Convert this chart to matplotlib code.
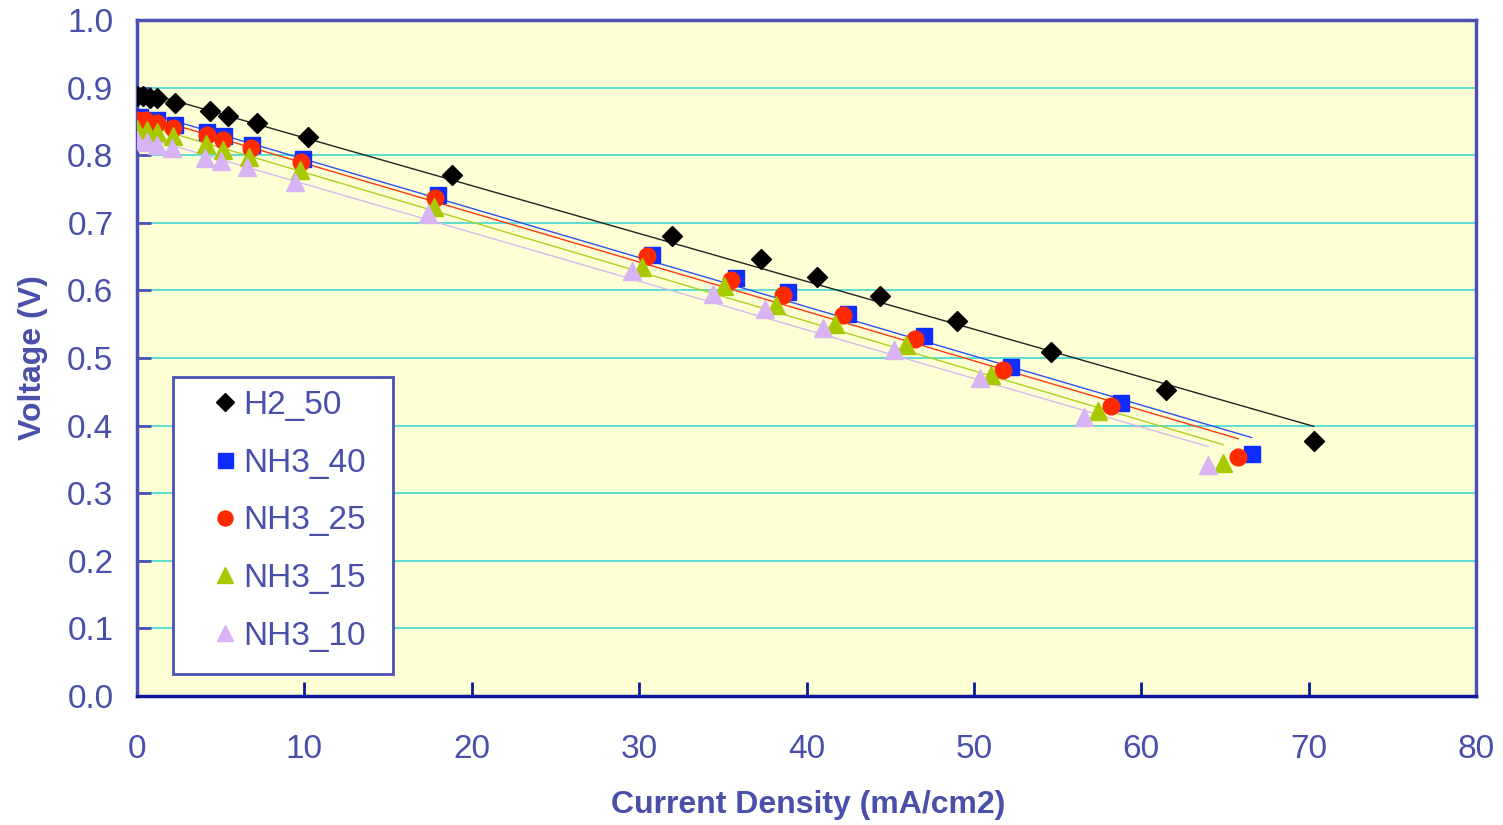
import numpy as np
import matplotlib
matplotlib.use("Agg")
import matplotlib.pyplot as plt
from matplotlib.patches import Rectangle

# ---- data ----
h2_50_x = [0.0, 0.38, 0.78, 1.18, 2.27, 4.36, 5.45, 7.15, 10.23, 18.8, 31.96, 37.3, 40.6, 44.4, 49.0, 54.6, 61.5, 70.3]
h2_50_y = [0.888, 0.888, 0.884, 0.884, 0.877, 0.865, 0.858, 0.847, 0.827, 0.771, 0.680, 0.646, 0.620, 0.592, 0.555, 0.509, 0.453, 0.377]

nh3_40_x = [0.18, 1.17, 2.27, 4.2, 5.2, 6.85, 9.9, 18.0, 30.74, 35.8, 38.87, 42.5, 47.0, 52.2, 58.8, 66.6]
nh3_40_y = [0.857, 0.852, 0.845, 0.835, 0.828, 0.815, 0.795, 0.741, 0.652, 0.619, 0.597, 0.565, 0.532, 0.487, 0.434, 0.358]

nh3_25_x = [0.0, 0.48, 1.17, 2.17, 4.16, 5.12, 6.79, 9.78, 17.8, 30.45, 35.5, 38.57, 42.2, 46.5, 51.75, 58.2, 65.8]
nh3_25_y = [0.852, 0.852, 0.848, 0.840, 0.830, 0.822, 0.810, 0.790, 0.737, 0.651, 0.616, 0.593, 0.563, 0.528, 0.482, 0.429, 0.354]

nh3_15_x = [0.0, 0.58, 1.17, 2.13, 4.1, 5.16, 6.7, 9.74, 17.74, 30.2, 35.07, 38.16, 41.7, 45.94, 51.0, 57.4, 64.9]
nh3_15_y = [0.839, 0.838, 0.835, 0.828, 0.817, 0.808, 0.797, 0.778, 0.723, 0.635, 0.607, 0.579, 0.551, 0.519, 0.475, 0.421, 0.344]

nh3_10_x = [0.0, 0.58, 1.17, 2.07, 4.06, 5.0, 6.55, 9.44, 17.4, 29.55, 34.4, 37.5, 41.0, 45.2, 50.36, 56.6, 64.0]
nh3_10_y = [0.822, 0.820, 0.815, 0.810, 0.796, 0.791, 0.783, 0.761, 0.713, 0.628, 0.595, 0.572, 0.545, 0.512, 0.470, 0.413, 0.342]

series_labels = ["H2_50", "NH3_40", "NH3_25", "NH3_15", "NH3_10"]
x_ticks = [0, 10, 20, 30, 40, 50, 60, 70, 80]
y_ticks = [0.0, 0.1, 0.2, 0.3, 0.4, 0.5, 0.6, 0.7, 0.8, 0.9, 1.0]

# ---- styling ----
plt.rcParams['font.family'] = ['Liberation Sans', 'DejaVu Sans']
txt_col = '#4A4FAA'
bg_col = '#FFFFD6'
grid_col = '#3FD8D0'

styles = [
    dict(marker='D', color='black', ms=10.5, line='#222222'),
    dict(marker='s', color='#0F2DFF', ms=12, line='#3050F0'),
    dict(marker='o', color='#FF2A00', ms=12, line='#FF3A10'),
    dict(marker='^', color='#A8C800', ms=13, line='#B0D020'),
    dict(marker='^', color='#D8B4F4', ms=13, line='#D8B8F0'),
]

fig = plt.figure(figsize=(15.03, 8.25), dpi=100)
ax = fig.add_axes([137/1503, 129/825, 1339/1503, 676/825])
ax.set_facecolor(bg_col)

data = [(h2_50_x, h2_50_y), (nh3_40_x, nh3_40_y), (nh3_25_x, nh3_25_y),
        (nh3_15_x, nh3_15_y), (nh3_10_x, nh3_10_y)]

for (xs, ys), st, lab in zip(data, styles, series_labels):
    xs = np.array(xs); ys = np.array(ys)
    k, b = np.polyfit(xs, ys, 1)
    xl = np.array([xs.min(), xs.max()])
    ax.plot(xl, k * xl + b, color=st['line'], lw=1.0, zorder=2)

for (xs, ys), st, lab in zip(data, styles, series_labels):
    ax.plot(xs, ys, linestyle='none', marker=st['marker'], color=st['color'],
            ms=st['ms'], mec=st['color'], label=lab, zorder=3)

ax.set_xlim(0, 80)
ax.set_ylim(0, 1.0)
ax.set_xticks(x_ticks)
ax.set_yticks(y_ticks)
ax.set_yticklabels([f"{v:.1f}" for v in y_ticks])
ax.yaxis.grid(True, color=grid_col, lw=1.2)
ax.set_axisbelow(True)

for s in ['left', 'top', 'right']:
    ax.spines[s].set_color('#4A50B4')
    ax.spines[s].set_linewidth(2.5)
ax.spines['bottom'].set_color('#0A1A9A')
ax.spines['bottom'].set_linewidth(2.5)

ax.tick_params(axis='x', direction='in', length=10, width=2, color='#0A1A9A',
               labelsize=24, labelcolor=txt_col, pad=27)
ax.tick_params(axis='y', direction='in', length=10, width=2, color='#4A50B4',
               labelsize=24, labelcolor=txt_col, pad=17)

ax.set_xlabel("Current Density (mA/cm2)", fontsize=23, fontweight='bold', color=txt_col)
ax.set_ylabel("Voltage (V)", fontsize=23, fontweight='bold', color=txt_col)
ax.xaxis.set_label_coords(0.501, -0.161)
ax.yaxis.set_label_coords(-0.0775, 0.5)
ax.xaxis.label.set_va('center')
ax.yaxis.label.set_va('center')

# legend frame (drawn as a rectangle in axes coords)
ax.add_patch(Rectangle((0.0269, 0.0325), 0.1643, 0.4393, transform=ax.transAxes,
                       facecolor='white', edgecolor='#4A50B4', lw=2, zorder=4.5))

leg = ax.legend(loc='upper left', bbox_to_anchor=(0.0530, 0.4527), fontsize=24,
                frameon=False, labelspacing=0.80, handlelength=1.0, handletextpad=0.05,
                borderpad=0, borderaxespad=0, markerscale=0.9)
leg.set_zorder(5)
for t in leg.get_texts():
    t.set_color(txt_col)

fig.savefig("out.png", dpi=100)
